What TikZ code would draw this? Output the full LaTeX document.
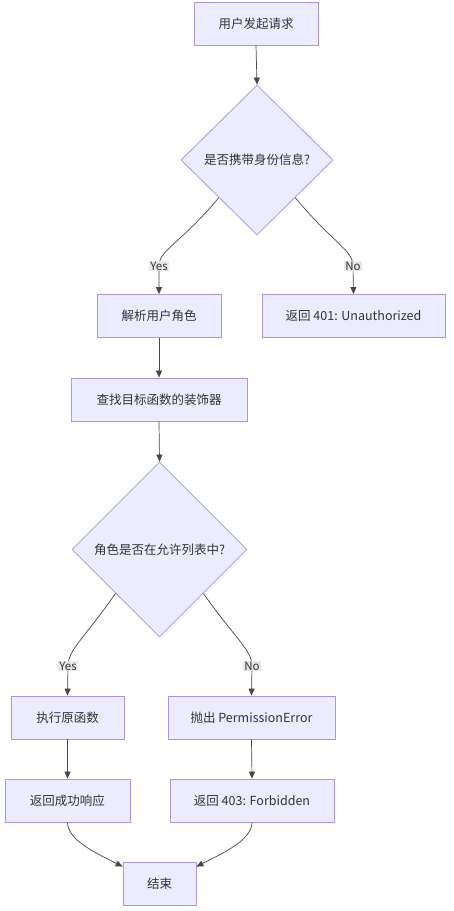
\documentclass[tikz,border=0pt]{standalone}
\usepackage{fontspec}
\setmainfont{Noto Sans CJK SC}
\usetikzlibrary{shapes.geometric,arrows.meta}
\definecolor{nodefill}{HTML}{ECECFF}
\definecolor{nodeline}{HTML}{AA96E2}
\definecolor{edgecol}{HTML}{333333}
\definecolor{lblbg}{HTML}{E8E8E8}
\begin{document}
\begin{tikzpicture}[x=1pt,y=-1pt,
  every node/.style={font=\fontsize{12.5}{15}\selectfont, text=edgecol},
  box/.style={draw=nodeline, fill=nodefill, line width=0.8pt, minimum height=43pt, inner sep=0pt},
  dia/.style={diamond, draw=nodeline, fill=nodefill, line width=0.8pt, inner sep=0pt},
  arr/.style={draw=edgecol!90, line width=0.7pt, -{Triangle[length=7pt,width=6pt]}},
  lbl/.style={fill=lblbg, inner sep=1.2pt, font=\fontsize{11.5}{13}\selectfont}]
\fill[white] (0,0) rectangle (454,911);
\useasboundingbox (0,0) rectangle (454,911);

\node[box, minimum width=124pt] (a) at (256,23.5) {用户发起请求};
\node[dia, minimum width=152pt, minimum height=150pt] (d1) at (257,160) {是否携带身份信息?};
\node[box, minimum width=124pt] (b) at (159,316) {解析用户角色};
\node[box, minimum width=183pt] (c) at (353.5,316) {返回 401: Unauthorized};
\node[box, minimum width=176pt] (d) at (159,399.5) {查找目标函数的装饰器};
\node[dia, minimum width=175pt, minimum height=175pt] (d2) at (159.5,549.5) {角色是否在允许列表中?};
\node[box, minimum width=113pt] (e) at (67.5,717.5) {执行原函数};
\node[box, minimum width=167pt] (f) at (251.5,717.5) {抛出 PermissionError};
\node[box, minimum width=125pt] (g) at (67.5,800.5) {返回成功响应};
\node[box, minimum width=164pt] (h) at (252,800.5) {返回 403: Forbidden};
\node[box, minimum width=73pt] (i) at (159.5,883.5) {结束};

\coordinate (ly1) at (159,266);
\coordinate (ln1) at (353,266);
\coordinate (ly2) at (68,666);
\coordinate (ln2) at (252,666);

\draw[arr] (a.south) -- (d1.north);
\draw[arr] (d1.south west) to[out=-130,in=90,out distance=61pt,in distance=16pt] (ly1) -- (b.north);
\draw[arr] (d1.south east) to[out=-50,in=90,out distance=61pt,in distance=16pt] (ln1) -- (c.north);
\draw[arr] (b.south) -- (d.north);
\draw[arr] (d.south) -- (d2.north);
\draw[arr] (d2.south west) to[out=-125,in=90,out distance=55pt,in distance=16pt] (ly2) -- (e.north);
\draw[arr] (d2.south east) to[out=-55,in=90,out distance=55pt,in distance=16pt] (ln2) -- (f.north);
\draw[arr] (e.south) -- (g.north);
\draw[arr] (f.south) -- (h.north);
\draw[arr] (g.south) to[out=-90,in=153,out distance=18pt,in distance=28pt] ([yshift=-5pt]i.north west);
\draw[arr] (h.south) to[out=-90,in=27,out distance=18pt,in distance=28pt] ([yshift=-5pt]i.north east);

\node[lbl] (yes1) at (ly1) {Yes};
\node[lbl] (no1) at (ln1) {No};
\node[lbl] (yes2) at (ly2) {Yes};
\node[lbl] (no2) at (ln2) {No};
\end{tikzpicture}
\end{document}
